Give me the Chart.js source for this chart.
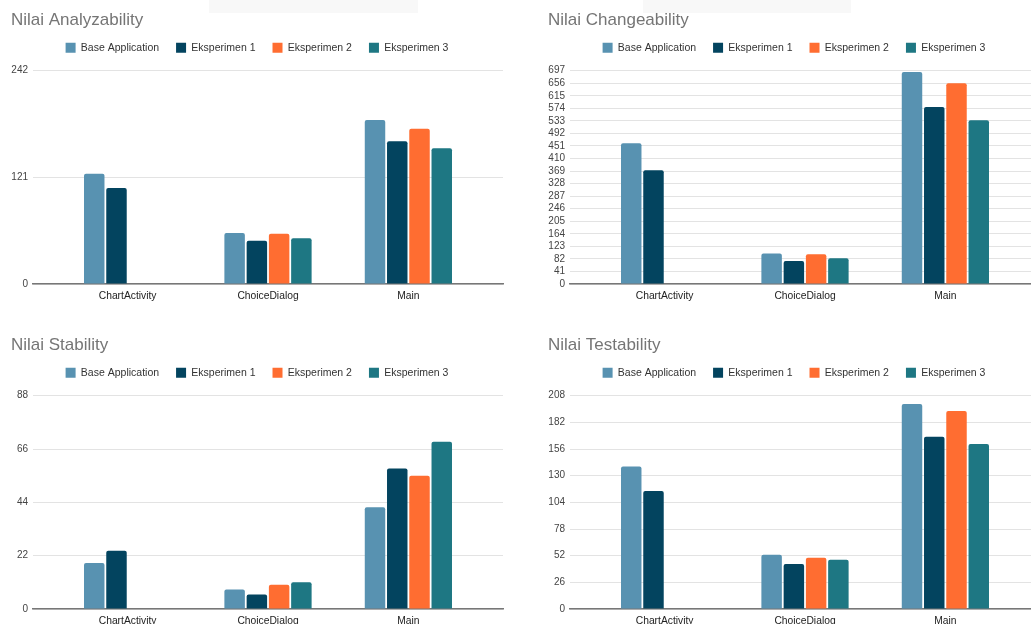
<!DOCTYPE html>
<html>
<head>
<meta charset="utf-8">
<script src="https://cdn.jsdelivr.net/npm/chart.js@4.4.1/dist/chart.umd.min.js"></script>
<style>
  html, body { margin: 0; padding: 0; background: #fff; }
  body { width: 1031px; height: 624px; overflow: hidden; position: relative; }
  .box { position: absolute; width: 515px; height: 312px; }
  .shade { position: absolute; top: 0; height: 13px; background: #f8f8f8; }
</style>
</head>
<body>
<div class="box" style="left:0;top:0"><canvas id="c1" width="515" height="312"></canvas></div>
<div class="box" style="left:537px;top:0"><canvas id="c2" width="515" height="312"></canvas></div>
<div class="box" style="left:0;top:325px"><canvas id="c3" width="515" height="312"></canvas></div>
<div class="box" style="left:537px;top:325px"><canvas id="c4" width="515" height="312"></canvas></div>
<div class="shade" style="left:209px;width:209px"></div>
<div class="shade" style="left:643px;width:208px"></div>
<script>
var categories = ['ChartActivity', 'ChoiceDialog', 'Main'];
var seriesNames = ['Base Application', 'Eksperimen 1', 'Eksperimen 2', 'Eksperimen 3'];
var seriesColors = ['#5892b1', '#03445f', '#ff6d31', '#1e7783'];

// Analyzability
var analyzabilityBase = [125, 58, 186];
var analyzabilityE1 = [109, 49, 162];
var analyzabilityE2 = [null, 57, 176];
var analyzabilityE3 = [null, 52, 154];
var analyzabilityTicks = [0, 121, 242];

// Changeability
var changeabilityBase = [460, 100, 693];
var changeabilityE1 = [372, 75, 578];
var changeabilityE2 = [null, 97, 656];
var changeabilityE3 = [null, 84, 535];
var changeabilityTicks = [0, 41, 82, 123, 164, 205, 246, 287, 328, 369, 410, 451, 492, 533, 574, 615, 656, 697];

// Stability
var stabilityBase = [19, 8, 42];
var stabilityE1 = [24, 6, 58];
var stabilityE2 = [null, 10, 55];
var stabilityE3 = [null, 11, 69];
var stabilityTicks = [0, 22, 44, 66, 88];

// Testability
var testabilityBase = [139, 53, 200];
var testabilityE1 = [115, 44, 168];
var testabilityE2 = [null, 50, 193];
var testabilityE3 = [null, 48, 161];
var testabilityTicks = [0, 26, 52, 78, 104, 130, 156, 182, 208];

Chart.defaults.font.family = 'Arial, "Liberation Sans", sans-serif';

// extra space between legend and plot
var legendGap = {
    id: 'legendGap',
    beforeInit: function (chart) {
        var fit = chart.legend.fit;
        chart.legend.fit = function () {
            fit.bind(chart.legend)();
            this.height += 7.7;
        };
    }
};

function makeChart(id, title, series, ticks) {
    return new Chart(document.getElementById(id), {
        type: 'bar',
        data: {
            labels: categories.map(function (c, i) { return i; }),
            datasets: series.map(function (values, i) {
                return {
                    label: seriesNames[i],
                    data: values,
                    backgroundColor: seriesColors[i],
                    borderWidth: 0,
                    borderRadius: 2,
                    categoryPercentage: 0.634,
                    barPercentage: 0.92
                };
            })
        },
        options: {
            responsive: false,
            animation: false,
            layout: { padding: { left: 11, right: 12, top: 0, bottom: 8 } },
            plugins: {
                title: {
                    display: true,
                    text: title,
                    align: 'start',
                    color: '#757575',
                    font: { size: 17, weight: 'normal', lineHeight: 1 },
                    padding: { top: 11.5, bottom: -3 }
                },
                legend: {
                    display: true,
                    position: 'top',
                    labels: {
                        boxWidth: 10,
                        boxHeight: 10,
                        padding: 17,
                        color: '#333',
                        font: { size: 10.5 }
                    }
                },
                tooltip: { enabled: false }
            },
            scales: {
                x: {
                    type: 'linear',
                    offset: false,
                    min: -0.674,
                    max: 2.674,
                    afterBuildTicks: function (s) {
                        s.ticks = categories.map(function (c, i) { return { value: i }; });
                    },
                    afterFit: function (s) { s.height = 20; },
                    ticks: {
                        callback: function (v) { return categories[v]; },
                        padding: 6,
                        maxRotation: 0,
                        autoSkip: false,
                        color: '#222',
                        font: { size: 10.3 }
                    },
                    grid: { offset: false, drawOnChartArea: false, drawTicks: false },
                    border: { color: '#777', width: 1.5 }
                },
                y: {
                    min: ticks[0],
                    max: ticks[ticks.length - 1],
                    afterBuildTicks: function (s) {
                        s.ticks = ticks.map(function (v) { return { value: v }; });
                    },
                    afterFit: function (s) { s.width = 22; },
                    ticks: { padding: 5, autoSkip: false, color: '#444', font: { size: 10 } },
                    grid: { color: '#e3e3e3', drawTicks: false },
                    border: { display: false }
                }
            }
        },
        plugins: [legendGap]
    });
}

makeChart('c1', 'Nilai Analyzability',
    [analyzabilityBase, analyzabilityE1, analyzabilityE2, analyzabilityE3], analyzabilityTicks);
makeChart('c2', 'Nilai Changeability',
    [changeabilityBase, changeabilityE1, changeabilityE2, changeabilityE3], changeabilityTicks);
makeChart('c3', 'Nilai Stability',
    [stabilityBase, stabilityE1, stabilityE2, stabilityE3], stabilityTicks);
makeChart('c4', 'Nilai Testability',
    [testabilityBase, testabilityE1, testabilityE2, testabilityE3], testabilityTicks);
</script>
</body>
</html>
